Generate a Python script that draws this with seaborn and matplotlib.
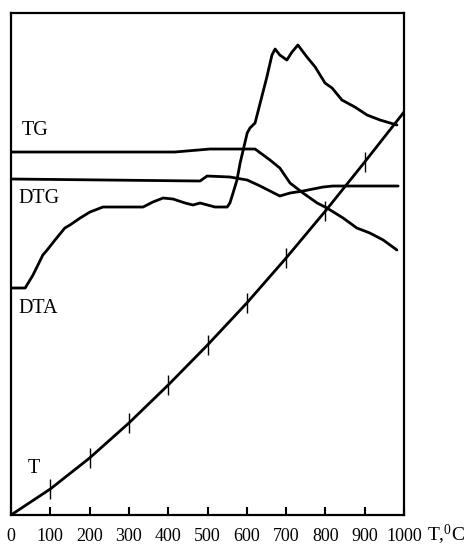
"""Thermal analysis curves (TG, DTG, DTA, T)."""
import matplotlib

matplotlib.use("Agg")
import matplotlib.pyplot as plt
import pandas as pd
import seaborn as sns

# temperature axis (deg C) and signal values in arbitrary units
tg_x = [0, 417, 506, 621, 659, 684, 710, 743, 779, 804, 845, 880, 913, 947, 982]
tg_y = [363, 363, 366, 366, 355, 347, 332, 322, 312, 307, 297, 287, 282, 275, 265]

dtg_x = [0, 481, 499, 557, 601, 634, 659, 684, 710, 743, 794, 819, 985]
dtg_y = [336, 334, 339, 338, 335, 329, 324, 319, 322, 324, 328, 329, 329]

dta_x = [0, 28, 36, 56, 81, 92, 112, 137, 150, 176, 201, 234, 336, 361, 387,
         412, 443, 463, 481, 519, 550, 557, 565, 575, 583, 601, 608, 621, 634,
         651, 664, 672, 684, 702, 715, 730, 753, 774, 799, 817, 842, 875, 906,
         939, 982]
dta_y = [227, 227, 227, 240, 260, 265, 275, 287, 290, 297, 303, 308, 308, 313,
         317, 316, 312, 310, 312, 308, 308, 312, 322, 335, 352, 382, 387, 392,
         412, 438, 460, 466, 460, 455, 463, 470, 458, 448, 432, 427, 415, 408,
         400, 395, 390]

t_x = [0, 100, 200, 300, 400, 500, 600, 700, 800, 900, 1000]
t_y = [0, 26, 57, 92, 130, 170, 212, 257, 304, 353, 403]

xticks = [0, 100, 200, 300, 400, 500, 600, 700, 800, 900, 1000]

sns.set_style("white")
plt.rcParams["font.family"] = ["Liberation Serif", "DejaVu Serif"]
plt.rcParams["mathtext.default"] = "regular"

fig = plt.figure(figsize=(4.7, 5.47), dpi=100)
ax = fig.add_axes([0.0234, 0.0585, 0.8362, 0.9177])

lw = 2.0
for xs, ys in [(tg_x, tg_y), (dtg_x, dtg_y), (dta_x, dta_y), (t_x, t_y)]:
    df = pd.DataFrame({"x": xs, "y": ys})
    sns.lineplot(data=df, x="x", y="y", ax=ax, color="black", lw=lw,
                 sort=False, estimator=None)

# marks on the temperature line
ax.plot(t_x[1:-1], t_y[1:-1], ls="none", marker="|", ms=14, mew=1.0,
        color="black")

ax.set_xlim(0, 1000)
ax.set_ylim(0, 502)
ax.set_xticks(xticks)
ax.set_xticklabels([str(v) for v in xticks], fontsize=13)
ax.set_yticks([])
ax.tick_params(axis="x", direction="in", length=6, width=1.5, pad=9,
               colors="black", bottom=True)
ax.set_xlabel("")
ax.set_ylabel("")
for s in ax.spines.values():
    s.set_color("black")
    s.set_linewidth(1.6)

lab_kw = dict(fontsize=14.5, va="center", ha="left", color="black")
ax.text(28, 385, "TG", **lab_kw)
ax.text(18, 317, "DTG", **lab_kw)
ax.text(20, 207, "DTA", **lab_kw)
ax.text(43, 47, "T", **lab_kw)

ax.text(1.058, -0.04, "T,$^{0}$C", transform=ax.transAxes, fontsize=14,
        va="center", ha="left", color="black")

fig.savefig("out.png", dpi=100)
